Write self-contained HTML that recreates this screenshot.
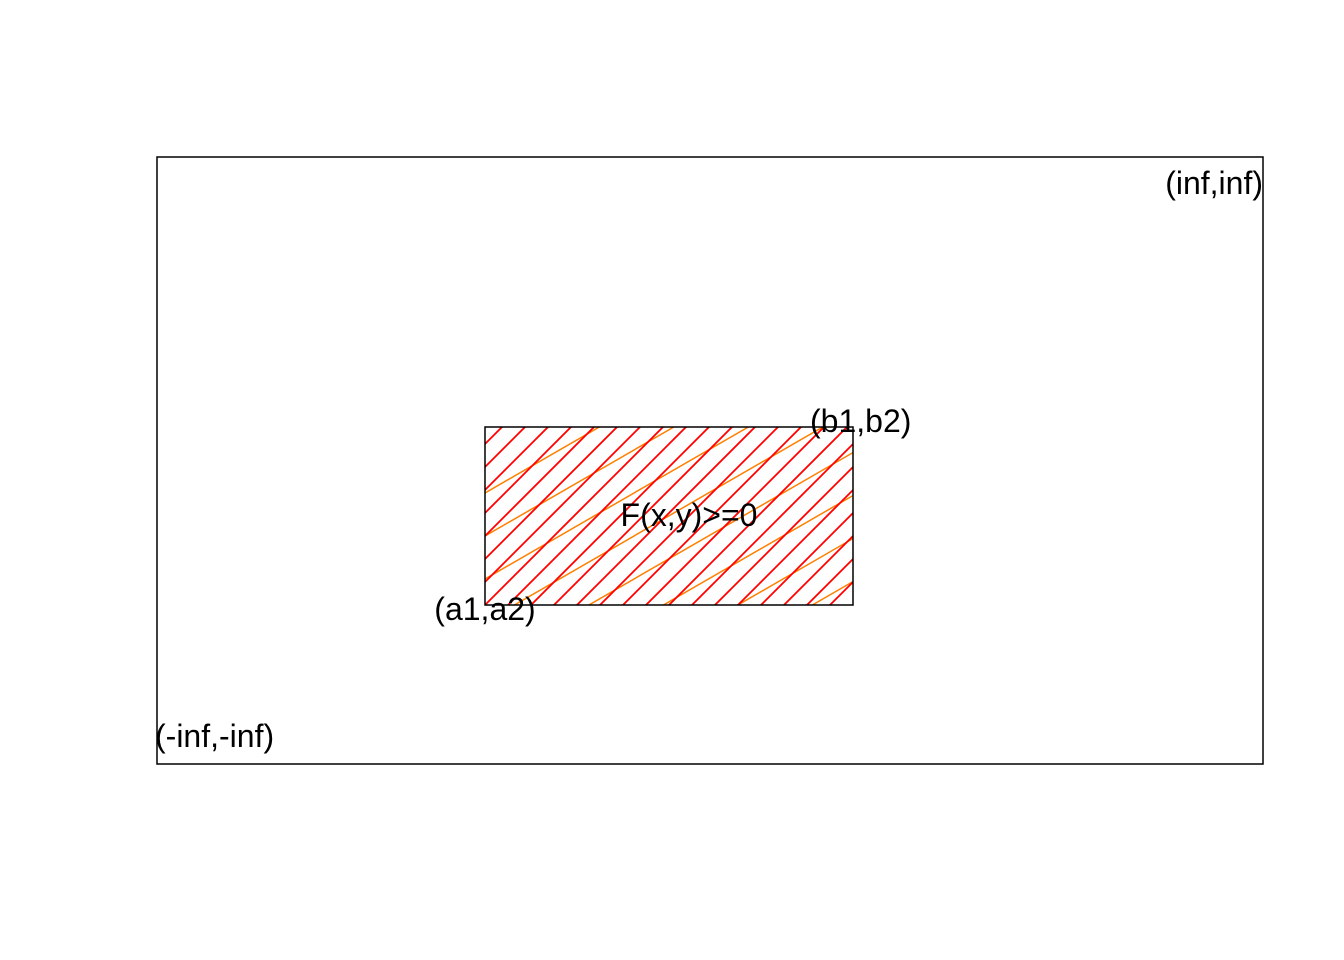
<!DOCTYPE html>
<html><head><style>html,body{margin:0;background:#fff;overflow:hidden;width:1344px;height:960px}svg{display:block}</style></head><body>
<svg width="1344" height="960" xmlns="http://www.w3.org/2000/svg" font-family="Liberation Sans, Arial, sans-serif" font-size="32">
<defs><clipPath id="c"><rect x="485" y="427" width="368" height="178"/></clipPath></defs>
<rect x="157" y="157" width="1106" height="607" fill="none" stroke="#000" stroke-width="1.5"/>
<g clip-path="url(#c)" stroke-width="1.8">
<g stroke="#ff7f00" stroke-width="1.5">
<line x1="300" y1="599.8" x2="1000" y2="195.7"/>
<line x1="300" y1="642.8" x2="1000" y2="238.7"/>
<line x1="300" y1="685.8" x2="1000" y2="281.7"/>
<line x1="300" y1="728.8" x2="1000" y2="324.7"/>
<line x1="300" y1="771.8" x2="1000" y2="367.7"/>
<line x1="300" y1="814.8" x2="1000" y2="410.7"/>
<line x1="300" y1="857.8" x2="1000" y2="453.7"/>
<line x1="300" y1="900.8" x2="1000" y2="496.7"/>
<line x1="300" y1="943.8" x2="1000" y2="539.7"/>
<line x1="300" y1="986.8" x2="1000" y2="582.7"/>
<line x1="300" y1="1029.8" x2="1000" y2="625.7"/>
<line x1="300" y1="1072.8" x2="1000" y2="668.7"/>
</g>
<g stroke="#ff0000" id="r"></g>
</g>
<rect x="485" y="427" width="368" height="178" fill="none" stroke="#000" stroke-width="1.5"/>
<text x="1263" y="194" text-anchor="end">(inf,inf)</text>
<text x="810" y="432">(b1,b2)</text>
<text x="689" y="526" text-anchor="middle">F(x,y)&gt;=0</text>
<text x="485" y="620" text-anchor="middle">(a1,a2)</text>
<text x="155" y="747">(-inf,-inf)</text>
</svg>
<script>
var g=document.getElementById('r');
for(var k=-12;k<30;k++){var x=502+23*k;var l=document.createElementNS('http://www.w3.org/2000/svg','line');
l.setAttribute('x1',x-300);l.setAttribute('y1',427+300);l.setAttribute('x2',x+300);l.setAttribute('y2',427-300);g.appendChild(l);}
</script>
</body></html>
